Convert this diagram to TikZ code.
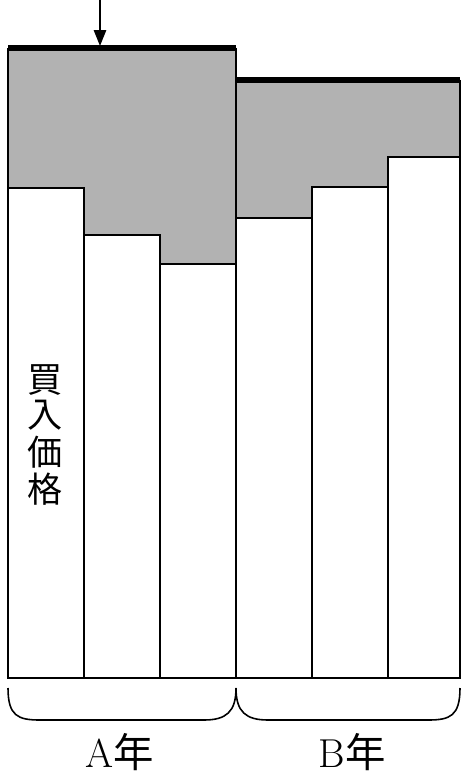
\documentclass[tikz,border=0pt]{standalone}
\usepackage{fontspec}
\newfontfamily\jp{Noto Sans CJK JP}
\usetikzlibrary{arrows.meta}
\tikzset{
    bar/.style={draw=black,fill=white,line width=1pt},
    shade/.style={fill=black!30,draw=none},
    topline/.style={line width=3pt},
    brace/.style={line width=0.9pt},
    lbl/.style={font=\fontsize{20}{24}\selectfont},
    yearlbl/.style={font=\fontsize{23}{27}\selectfont},
}
\begin{document}
\begin{tikzpicture}[x=0.02cm,y=-0.02cm]
    \useasboundingbox (0,0) rectangle (462,773);
    % shaded areas above the bars
    \fill[shade] (8,48) -- (236,48) -- (236,264) -- (160,264) -- (160,235) -- (84,235) -- (84,188) -- (8,188) -- cycle;
    \fill[shade] (236,80) -- (460,80) -- (460,157) -- (388,157) -- (388,187) -- (312,187) -- (312,218) -- (236,218) -- cycle;
    \draw[line width=1pt] (8,48) -- (8,678);
    \draw[line width=1pt] (236,48) -- (236,678);
    \draw[line width=1pt] (460,80) -- (460,678);
    % bars
    \draw[bar] (8,188) rectangle (84,678);
    \draw[bar] (84,235) rectangle (160,678);
    \draw[bar] (160,264) rectangle (236,678);
    \draw[bar] (236,218) rectangle (312,678);
    \draw[bar] (312,187) rectangle (388,678);
    \draw[bar] (388,157) rectangle (460,678);
    % top lines
    \draw[topline] (8,48) -- (236,48);
    \draw[topline] (236,80) -- (460,80);
    % arrow
    \coordinate (s) at (100,0);
    \coordinate (t) at (100,46);
    \draw[line width=0.8pt,-{Triangle[length=9pt,width=7pt]}] (s) -- (t);
    % braces
    \draw[brace] (8,688) .. controls (8,716) and (18,720) .. (40,720) -- (204,720) .. controls (226,720) and (236,712) .. (236,688);
    \draw[brace] (236,688) .. controls (236,712) and (246,720) .. (268,720) -- (428,720) .. controls (450,720) and (460,716) .. (460,688);
    % labels
    \node[lbl] (price) at (45,435) {\jp\shortstack{買\\入\\価\\格}};
    \node[yearlbl] (ya) at (120,752) {A\jp 年};
    \node[yearlbl] (yb) at (352,752) {B\jp 年};
\end{tikzpicture}
\end{document}
